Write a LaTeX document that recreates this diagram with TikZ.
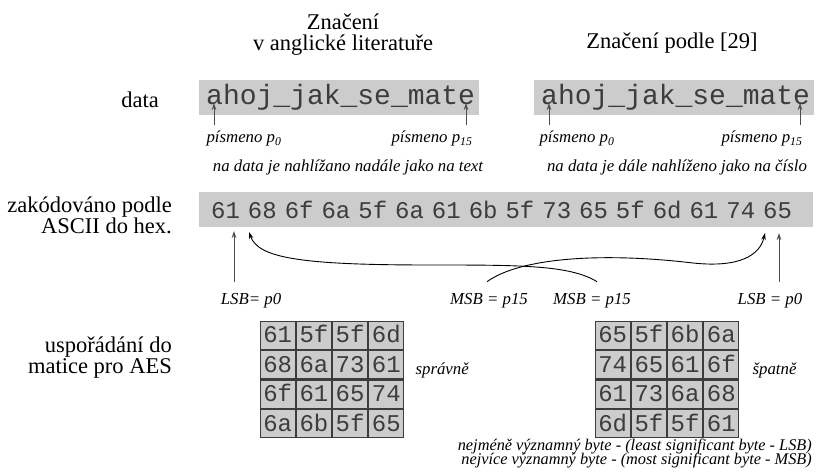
\documentclass[tikz,border=0pt]{standalone}
\usepackage{fontspec}
\setmainfont{Liberation Serif}
\newfontfamily\monofont{Liberation Mono}
\newfontfamily\hexfont{Liberation Mono}[WordSpace=0.55]
\usetikzlibrary{arrows.meta,positioning,matrix}

\definecolor{boxgray}{HTML}{CCCCCC}
\definecolor{inkgray}{HTML}{3C3C3C}
% keep the baselineskip exact in two-line labels
\newcommand{\tightlines}{\lineskiplimit=-30pt\relax}

\begin{document}
\begin{tikzpicture}[x=1pt,y=-1pt,>={Stealth[length=7pt,width=4.5pt]}]
  \tikzstyle{graybox}=[fill=boxgray,anchor=west,inner ysep=0pt,minimum height=35pt,align=left,text=inkgray]
  \tikzstyle{side}=[font={\fontsize{22.5}{21}\selectfont\tightlines},align=right,inner sep=0pt]
  \tikzstyle{lab}=[font={\fontsize{16.8}{18}\selectfont\itshape},inner sep=0pt]
  \tikzstyle{cell}=[draw=inkgray,line width=1.2pt,fill=boxgray,minimum width=35pt,minimum height=28.25pt,inner sep=0pt,text height=15pt,text depth=0pt,text=inkgray,font={\fontsize{24}{24}\monofont}]
  \tikzstyle{pointer}=[->,black!70,line width=0.9pt]
  \useasboundingbox (0,0) rectangle (822,473);

  % headings
  \node[side,align=center,anchor=base] (hd1) at (343,51) {Značení\\v anglické literatuře};
  \node[side,anchor=base] (hd2) at (672,49) {Značení podle [29]};

  % row labels
  \node[side,anchor=base] (rdata) at (140,108) {data};
  \node[side,anchor=base east] (rhex) at (172,234) {zakódováno podle\\ASCII do hex.};
  \node[side,anchor=base east] (raes) at (172,373) {uspořádání do\\matice pro AES};

  % the text itself
  \node[graybox,font={\fontsize{28}{28}\monofont},text width=266pt,inner xsep=7pt,text height=19pt,text depth=5pt] (dt1) at (199,97.5) {ahoj\_jak\_se\_mate};
  \node[graybox,font={\fontsize{28}{28}\monofont},text width=266pt,inner xsep=7pt,text height=19pt,text depth=5pt] (dt2) at (534,97.5) {ahoj\_jak\_se\_mate};
  \node[lab,anchor=base] (pa0) at (244,143) {písmeno p\textsubscript{0}};
  \node[lab,anchor=base] (pa15) at (432,143) {písmeno p\textsubscript{15}};
  \node[lab,anchor=base] (pb0) at (577,143) {písmeno p\textsubscript{0}};
  \node[lab,anchor=base] (pb15) at (762,143) {písmeno p\textsubscript{15}};
  \coordinate (ta0) at (214,103);
  \coordinate (ta15) at (466,103);
  \coordinate (tb0) at (549,103);
  \coordinate (tb15) at (800,103);
  \draw[pointer,shorten <=6pt] (pa0.north -| ta0) -- (ta0);
  \draw[pointer,shorten <=6pt] (pa15.north -| ta15) -- (ta15);
  \draw[pointer,shorten <=6pt] (pb0.north -| tb0) -- (tb0);
  \draw[pointer,shorten <=6pt] (pb15.north -| tb15) -- (tb15);

  \node[lab,anchor=base] (nt1) at (348,172) {na data je nahlížano nadále jako na text};
  \node[lab,anchor=base] (nt2) at (677,172) {na data je dále nahlíženo jako na číslo};

  % hex bytes
  \node[graybox,font={\fontsize{24}{24}\hexfont},text width=590pt,inner xsep=12pt,text height=19pt,text depth=0pt] (hx) at (199,209.5) {61 68 6f 6a 5f 6a 61 6b 5f 73 65 5f 6d 61 74 65};
  \coordinate (tl) at (234,231);
  \coordinate (tc1) at (249,232);
  \coordinate (tc2) at (765,233);
  \coordinate (tr) at (779,233);
  \node[lab,anchor=base] (lsb1) at (251,304) {LSB= p0};
  \node[lab,anchor=base] (msb1) at (489,304) {MSB = p15};
  \node[lab,anchor=base] (msb2) at (592,304) {MSB = p15};
  \node[lab,anchor=base] (lsb2) at (770,304) {LSB = p0};
  \draw[pointer,shorten <=11pt] (lsb1.north -| tl) -- (tl);
  \draw[pointer,shorten <=11pt] (lsb2.north -| tr) -- (tr);
  \draw[->,line width=0.9pt] ([shift={(5pt,11pt)}]msb2.north) .. controls (570,265) and (520,265) .. (430,265) .. controls (300,265) and (258,258) .. (tc1);
  \draw[->,line width=0.9pt] ([shift={(-2pt,11pt)}]msb1.north) .. controls (520,258) and (600,252) .. (693,263) .. controls (740,268) and (760,255) .. (tc2);

  % AES state matrices
  \matrix[matrix of nodes,nodes={cell},column sep=0pt,row sep=0pt] (m1) at (332,379.5) {
    61 & 5f & 5f & 6d \\
    68 & 6a & 73 & 61 \\
    6f & 61 & 65 & 74 \\
    6a & 6b & 5f & 65 \\
  };
  \matrix[matrix of nodes,nodes={cell},column sep=0pt,row sep=0pt] (m2) at (667,379.5) {
    65 & 5f & 6b & 6a \\
    74 & 65 & 61 & 6f \\
    61 & 73 & 6a & 68 \\
    6d & 5f & 5f & 61 \\
  };
  \node[lab,right=11pt of m1-2-4,yshift=-6pt] (ok1) {správně};
  \node[lab,right=13pt of m2-2-4,yshift=-6pt] (ko2) {špatně};

  \node[lab,font={\fontsize{16.3}{13.5}\selectfont\itshape\tightlines},align=right,anchor=base east] (note) at (812,464) {nejméně významný byte - (least significant byte - LSB)\\nejvíce významný byte - (most significant byte - MSB)};
\end{tikzpicture}
\end{document}
